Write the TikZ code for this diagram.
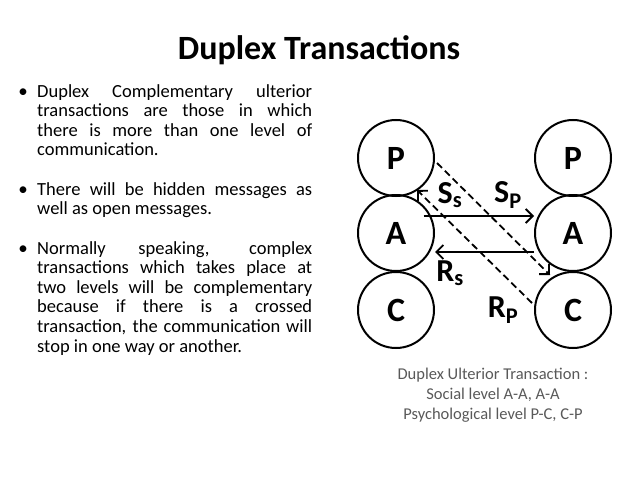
\documentclass[tikz,border=0pt]{standalone}
\usepackage{fontspec}
\setmainfont{Carlito}
\usetikzlibrary{arrows.meta}
\begin{document}
\hyphenpenalty=10000
\exhyphenpenalty=10000
\begin{tikzpicture}[x=1pt,y=-1pt,
    every node/.style={inner sep=0pt},
    ego/.style={circle, draw, line width=2pt, minimum size=76pt, font=\fontsize{34}{34}\selectfont\bfseries},
    lbl/.style={font=\fontsize{32}{32}\selectfont\bfseries},
    link/.style={line width=1.8pt, -{Straight Barb[length=7pt]}},
    para/.style={anchor=north west, text width=275pt, align=justify, font=\fontsize{18.5}{19.6}\selectfont}]
  \useasboundingbox (0,0) rectangle (638,479);
  \node[font=\fontsize{34}{34}\selectfont\bfseries] (title) at (319,50) {Duplex Transactions};
  % bullet list
  \node[para] (b1) at (37,84) {Duplex Complementary ulterior transactions are those in which there is more than one level of communication.};
  \node[para] (b2) at (37,182) {There will be hidden messages as well as open messages.};
  \node[para] (b3) at (37,241) {Normally speaking, complex transactions which takes place at two levels will be complementary because if there is a crossed transaction, the communication will stop in one way or another.};
  \foreach \n/\y in {1/93,2/191,3/250}
    \node[font=\fontsize{19}{19}\selectfont] (dot\n) at (23,\y) {\textbullet};
  % ego states
  \node[ego] (lp) at (396,158) {P};
  \node[ego] (la) at (396,233) {A};
  \node[ego] (lc) at (396,310) {C};
  \node[ego] (rp) at (573,158) {P};
  \node[ego] (ra) at (573,233) {A};
  \node[ego] (rc) at (573,310) {C};
  % transactions
  \draw[link] (la.north east |- 0,216) -- (ra.west |- 0,216);
  \draw[link] (ra.west |- 0,252) -- (la.east |- 0,252);
  \coordinate (pout) at (437,163);
  \coordinate (cin) at (550,275);
  \coordinate (cout) at (532,303);
  \coordinate (pin) at (417,190);
  \draw[link, dash pattern=on 7pt off 4pt] (pout) -- (cin);
  \draw[link, dash pattern=on 7pt off 4pt] (cout) -- (pin);
  \node[lbl] (ss) at (450,195) {S\textsubscript{s}};
  \node[lbl] (sp) at (508,195) {S\textsubscript{P}};
  \node[lbl] (rs) at (450,273) {R\textsubscript{s}};
  \node[lbl] (rp2) at (503,310) {R\textsubscript{P}};
  \node[align=center, text=black!65, font=\fontsize{16.5}{20}\selectfont] (cap) at (493,395)
    {Duplex Ulterior Transaction :\\Social level A-A, A-A\\Psychological level P-C, C-P};
\end{tikzpicture}
\end{document}
